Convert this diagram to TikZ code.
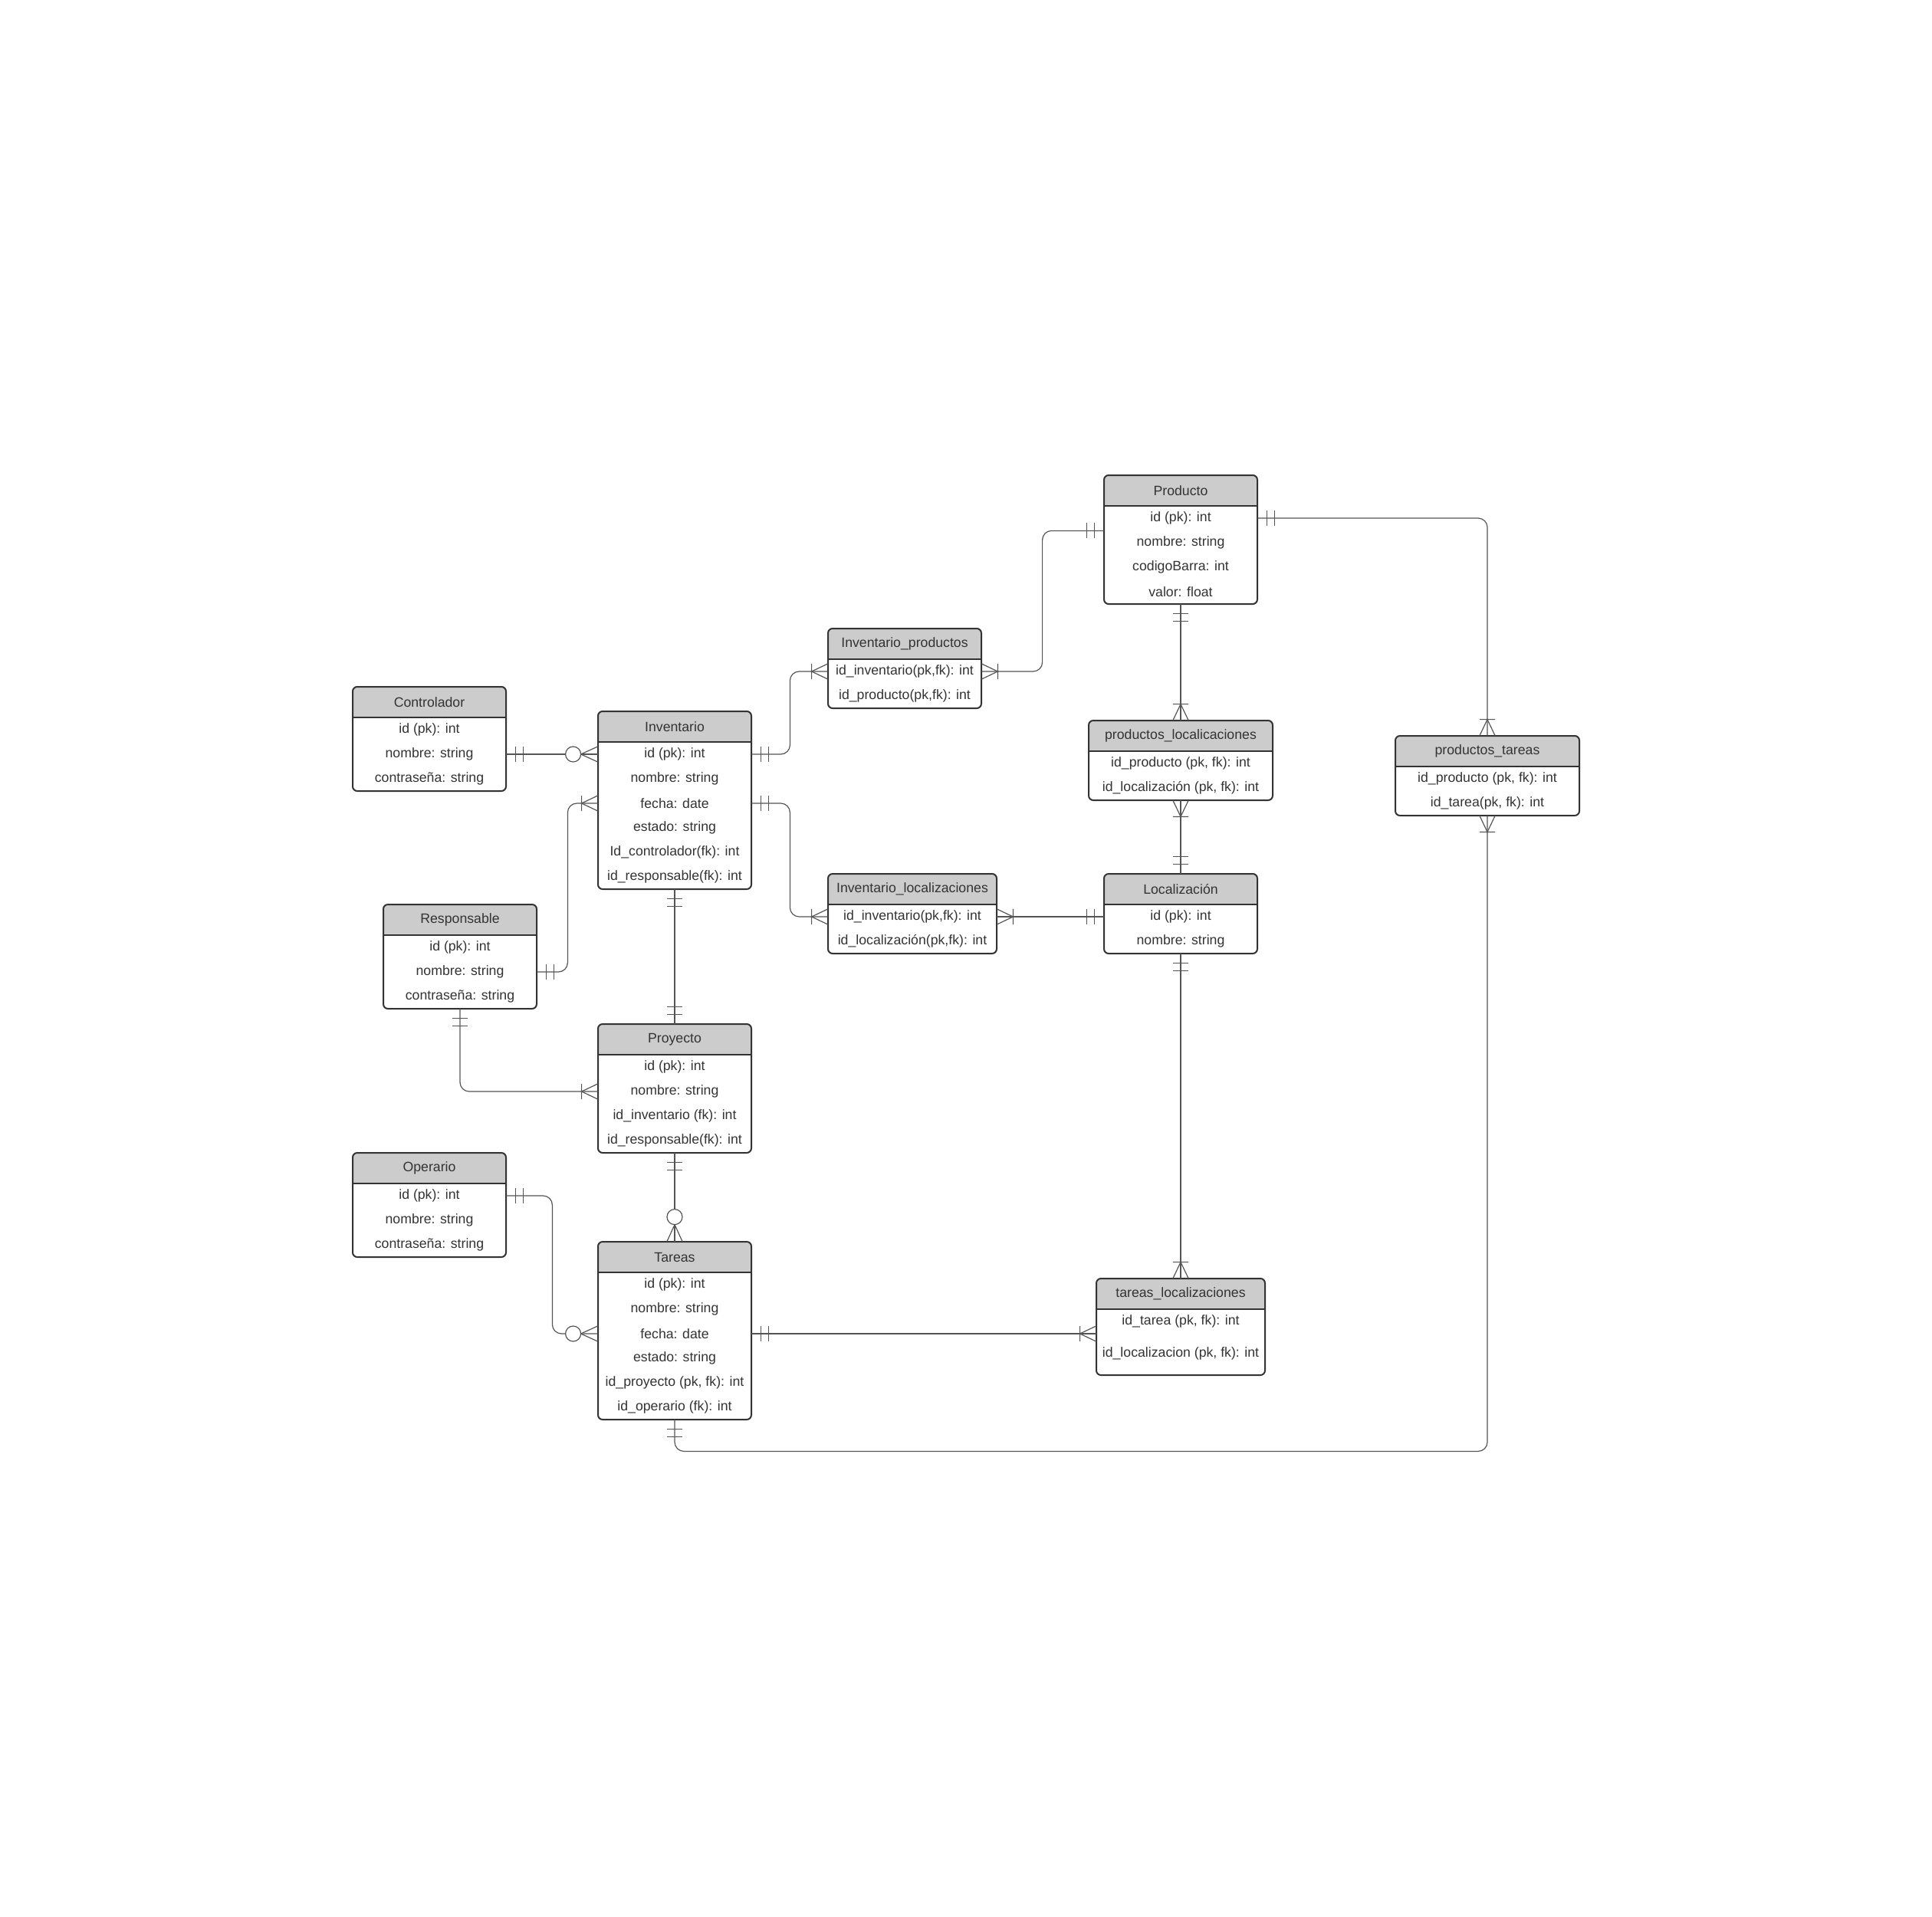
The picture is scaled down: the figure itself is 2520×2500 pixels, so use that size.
\documentclass[tikz,border=0pt]{standalone}
\usepackage{fontspec}
\setmainfont{Liberation Sans}
\usepackage{tikz}
\definecolor{cabezagris}{HTML}{CCCCCC}
\definecolor{borde}{HTML}{333333}
\definecolor{texto}{HTML}{333333}
\definecolor{linea}{HTML}{555555}

\begin{document}
\begin{tikzpicture}[x=0.5pt,y=0.5pt,yscale=-1,xscale=1,
  tabla/.style={draw=borde, line width=1pt, rounded corners=3pt},
  separador/.style={draw=borde, line width=1pt},
  titulo/.style={inner sep=0pt, minimum height=20pt, text=texto, font=\fontsize{8.85}{10}\selectfont},
  fila/.style={inner sep=0pt, minimum height=16pt, text=texto, font=\fontsize{8.85}{10}\selectfont},
  conector/.style={draw=linea, line width=0.6pt, rounded corners=6pt},
  marca/.style={draw=linea, line width=0.6pt},
  pics/solouno/.style={code={\draw[marca] (12,-10) -- (12,10) (22,-10) -- (22,10);}},
  pics/unomuchos/.style={code={\draw[marca] (0,-10) -- (21,0) -- (0,10) (21,-10) -- (21,10);}},
  pics/ceromuchos/.style={code={\draw[marca] (0,-10) -- (22,0) -- (0,10); \draw[marca, fill=white] (32,0) circle[radius=10];}}]
\useasboundingbox (0,0) rectangle (2520,2500);

%Shape: Tabla Controlador
\fill[cabezagris, rounded corners=3pt] (460,896) rectangle (660,936);
\fill[cabezagris] (460,926) rectangle (660,936);
\draw[tabla] (460,896) rectangle (660,1032);
\draw[separador] (460,936) -- (660,936);
% Text Node
\node[titulo] (ctl) at (560,916) {Controlador};
\node[fila, minimum width=100pt] (ctl-1) at (560,952) {id (pk): int};
\node[fila, minimum width=100pt] (ctl-2) at (560,984) {nombre: string};
\node[fila, minimum width=100pt] (ctl-3) at (560,1016) {contraseña: string};

%Shape: Tabla Inventario
\fill[cabezagris, rounded corners=3pt] (780,928) rectangle (980,968);
\fill[cabezagris] (780,958) rectangle (980,968);
\draw[tabla] (780,928) rectangle (980,1160);
\draw[separador] (780,968) -- (980,968);
% Text Node
\node[titulo] (inv) at (880,948) {Inventario};
\node[fila, minimum width=100pt] (inv-1) at (880,984) {id (pk): int};
\node[fila, minimum width=100pt] (inv-2) at (880,1016) {nombre: string};
\node[fila, minimum width=100pt] (inv-3) at (880,1048) {fecha: date};
\node[fila, minimum width=100pt] (inv-4) at (880,1080) {estado: string};
\node[fila, minimum width=100pt] (inv-5) at (880,1112) {Id\_controlador(fk): int};
\node[fila, minimum width=100pt] (inv-6) at (880,1144) {id\_responsable(fk): int};

%Shape: Tabla Responsable
\fill[cabezagris, rounded corners=3pt] (500,1180) rectangle (700,1220);
\fill[cabezagris] (500,1210) rectangle (700,1220);
\draw[tabla] (500,1180) rectangle (700,1316);
\draw[separador] (500,1220) -- (700,1220);
% Text Node
\node[titulo] (res) at (600,1200) {Responsable};
\node[fila, minimum width=100pt] (res-1) at (600,1236) {id (pk): int};
\node[fila, minimum width=100pt] (res-2) at (600,1268) {nombre: string};
\node[fila, minimum width=100pt] (res-3) at (600,1300) {contraseña: string};

%Shape: Tabla Proyecto
\fill[cabezagris, rounded corners=3pt] (780,1336) rectangle (980,1376);
\fill[cabezagris] (780,1366) rectangle (980,1376);
\draw[tabla] (780,1336) rectangle (980,1504);
\draw[separador] (780,1376) -- (980,1376);
% Text Node
\node[titulo] (pry) at (880,1356) {Proyecto};
\node[fila, minimum width=100pt] (pry-1) at (880,1392) {id (pk): int};
\node[fila, minimum width=100pt] (pry-2) at (880,1424) {nombre: string};
\node[fila, minimum width=100pt] (pry-3) at (880,1456) {id\_inventario (fk): int};
\node[fila, minimum width=100pt] (pry-4) at (880,1488) {id\_responsable(fk): int};

%Shape: Tabla Operario
\fill[cabezagris, rounded corners=3pt] (460,1504) rectangle (660,1544);
\fill[cabezagris] (460,1534) rectangle (660,1544);
\draw[tabla] (460,1504) rectangle (660,1640);
\draw[separador] (460,1544) -- (660,1544);
% Text Node
\node[titulo] (opr) at (560,1524) {Operario};
\node[fila, minimum width=100pt] (opr-1) at (560,1560) {id (pk): int};
\node[fila, minimum width=100pt] (opr-2) at (560,1592) {nombre: string};
\node[fila, minimum width=100pt] (opr-3) at (560,1624) {contraseña: string};

%Shape: Tabla Tareas
\fill[cabezagris, rounded corners=3pt] (780,1620) rectangle (980,1660);
\fill[cabezagris] (780,1650) rectangle (980,1660);
\draw[tabla] (780,1620) rectangle (980,1852);
\draw[separador] (780,1660) -- (980,1660);
% Text Node
\node[titulo] (tar) at (880,1640) {Tareas};
\node[fila, minimum width=100pt] (tar-1) at (880,1676) {id (pk): int};
\node[fila, minimum width=100pt] (tar-2) at (880,1708) {nombre: string};
\node[fila, minimum width=100pt] (tar-3) at (880,1740) {fecha: date};
\node[fila, minimum width=100pt] (tar-4) at (880,1772) {estado: string};
\node[fila, minimum width=100pt] (tar-5) at (880,1804) {id\_proyecto (pk, fk): int};
\node[fila, minimum width=100pt] (tar-6) at (880,1836) {id\_operario (fk): int};

%Shape: Tabla Inventario_productos
\fill[cabezagris, rounded corners=3pt] (1080,820) rectangle (1280,860);
\fill[cabezagris] (1080,850) rectangle (1280,860);
\draw[tabla] (1080,820) rectangle (1280,924);
\draw[separador] (1080,860) -- (1280,860);
% Text Node
\node[titulo] (ipr) at (1180,840) {Inventario\_productos};
\node[fila, minimum width=100pt] (ipr-1) at (1180,876) {id\_inventario(pk,fk): int};
\node[fila, minimum width=100pt] (ipr-2) at (1180,908) {id\_producto(pk,fk): int};

%Shape: Tabla Producto
\fill[cabezagris, rounded corners=3pt] (1440,620) rectangle (1640,660);
\fill[cabezagris] (1440,650) rectangle (1640,660);
\draw[tabla] (1440,620) rectangle (1640,788);
\draw[separador] (1440,660) -- (1640,660);
% Text Node
\node[titulo] (prd) at (1540,640) {Producto};
\node[fila, minimum width=100pt] (prd-1) at (1540,676) {id (pk): int};
\node[fila, minimum width=100pt] (prd-2) at (1540,708) {nombre: string};
\node[fila, minimum width=100pt] (prd-3) at (1540,740) {codigoBarra: int};
\node[fila, minimum width=100pt] (prd-4) at (1540,772) {valor: float};

%Shape: Tabla productos_localicaciones
\fill[cabezagris, rounded corners=3pt] (1420,940) rectangle (1660,980);
\fill[cabezagris] (1420,970) rectangle (1660,980);
\draw[tabla] (1420,940) rectangle (1660,1044);
\draw[separador] (1420,980) -- (1660,980);
% Text Node
\node[titulo] (ploc) at (1540,960) {productos\_localicaciones};
\node[fila, minimum width=120pt] (ploc-1) at (1540,996) {id\_producto (pk, fk): int};
\node[fila, minimum width=120pt] (ploc-2) at (1540,1028) {id\_localización (pk, fk): int};

%Shape: Tabla Inventario_localizaciones
\fill[cabezagris, rounded corners=3pt] (1080,1140) rectangle (1300,1180);
\fill[cabezagris] (1080,1170) rectangle (1300,1180);
\draw[tabla] (1080,1140) rectangle (1300,1244);
\draw[separador] (1080,1180) -- (1300,1180);
% Text Node
\node[titulo] (iloc) at (1190,1160) {Inventario\_localizaciones};
\node[fila, minimum width=110pt] (iloc-1) at (1190,1196) {id\_inventario(pk,fk): int};
\node[fila, minimum width=110pt] (iloc-2) at (1190,1228) {id\_localización(pk,fk): int};

%Shape: Tabla Localización
\fill[cabezagris, rounded corners=3pt] (1440,1140) rectangle (1640,1180);
\fill[cabezagris] (1440,1170) rectangle (1640,1180);
\draw[tabla] (1440,1140) rectangle (1640,1244);
\draw[separador] (1440,1180) -- (1640,1180);
% Text Node
\node[titulo] (loc) at (1540,1160) {Localización};
\node[fila, minimum width=100pt] (loc-1) at (1540,1196) {id (pk): int};
\node[fila, minimum width=100pt] (loc-2) at (1540,1228) {nombre: string};

%Shape: Tabla productos_tareas
\fill[cabezagris, rounded corners=3pt] (1820,960) rectangle (2060,1000);
\fill[cabezagris] (1820,990) rectangle (2060,1000);
\draw[tabla] (1820,960) rectangle (2060,1064);
\draw[separador] (1820,1000) -- (2060,1000);
% Text Node
\node[titulo] (pta) at (1940,980) {productos\_tareas};
\node[fila, minimum width=120pt] (pta-1) at (1940,1016) {id\_producto (pk, fk): int};
\node[fila, minimum width=120pt] (pta-2) at (1940,1048) {id\_tarea(pk, fk): int};

%Shape: Tabla tareas_localizaciones
\fill[cabezagris, rounded corners=3pt] (1430,1668) rectangle (1650,1708);
\fill[cabezagris] (1430,1698) rectangle (1650,1708);
\draw[tabla] (1430,1668) rectangle (1650,1794);
\draw[separador] (1430,1708) -- (1650,1708);
% Text Node
\node[titulo] (tloc) at (1540,1688) {tareas\_localizaciones};
\node[fila, minimum width=110pt, minimum height=14pt] (tloc-1) at (1540,1724) {id\_tarea (pk, fk): int};
\node[fila, minimum width=110pt, minimum height=14pt] (tloc-2) at (1540,1766) {id\_localizacion (pk, fk): int};
\coordinate (tloc-in) at (tar-3.east -| tloc-1.west);

%Straight Lines
\draw[conector] (ctl-2.east) -- (inv-1.west);
\draw[conector] (res-2.east) -- ++(40,0) |- (inv-3.west);
\draw[conector] (inv-1.east) -- ++(50,0) |- (ipr-1.west);
\draw[conector] (inv-3.east) -- ++(50,0) |- (iloc-1.west);
\draw[conector] (prd-1.south west) -- ++(-80,0) |- (ipr-1.east);
\draw[conector] (prd-1.east) -| (pta.north);
\draw[conector] (prd-4.south) -- (ploc.north);
\draw[conector] (ploc-2.south) -- (loc.north);
\draw[conector] (loc-1.west) -- (iloc-1.east);
\draw[conector] (loc-2.south) -- (tloc.north);
\draw[conector] (inv-6.south) -- (pry.north);
\draw[conector] (res-3.south) |- (pry-2.west);
\draw[conector] (pry-4.south) -- (tar.north);
\draw[conector] (opr-1.east) -- ++(60,0) |- (tar-3.west);
\draw[conector] (tar-3.east) -- (tloc-in);
\draw[conector] (tar-6.south) -- ++(0,41) -| (pta-2.south);

%Ends
\pic at (ctl-2.east) {solouno};
\pic[rotate=180] at (inv-1.west) {ceromuchos};
\pic at (res-2.east) {solouno};
\pic[rotate=180] at (inv-3.west) {unomuchos};
\pic at (inv-1.east) {solouno};
\pic[rotate=180] at (ipr-1.west) {unomuchos};
\pic at (inv-3.east) {solouno};
\pic[rotate=180] at (iloc-1.west) {unomuchos};
\pic[rotate=180] at (prd-1.south west) {solouno};
\pic at (ipr-1.east) {unomuchos};
\pic at (prd-1.east) {solouno};
\pic[rotate=90] at (pta.north) {unomuchos};
\pic[rotate=-90] at (prd-4.south) {solouno};
\pic[rotate=90] at (ploc.north) {unomuchos};
\pic[rotate=-90] at (ploc-2.south) {unomuchos};
\pic[rotate=90] at (loc.north) {solouno};
\pic[rotate=180] at (loc-1.west) {solouno};
\pic at (iloc-1.east) {unomuchos};
\pic[rotate=-90] at (loc-2.south) {solouno};
\pic[rotate=90] at (tloc.north) {unomuchos};
\pic[rotate=-90] at (inv-6.south) {solouno};
\pic[rotate=90] at (pry.north) {solouno};
\pic[rotate=-90] at (res-3.south) {solouno};
\pic[rotate=180] at (pry-2.west) {unomuchos};
\pic[rotate=-90] at (pry-4.south) {solouno};
\pic[rotate=90] at (tar.north) {ceromuchos};
\pic at (opr-1.east) {solouno};
\pic[rotate=180] at (tar-3.west) {ceromuchos};
\pic at (tar-3.east) {solouno};
\pic[rotate=180] at (tloc-in) {unomuchos};
\pic[rotate=-90] at (tar-6.south) {solouno};
\pic[rotate=-90] at (pta-2.south) {unomuchos};

\end{tikzpicture}
\end{document}
